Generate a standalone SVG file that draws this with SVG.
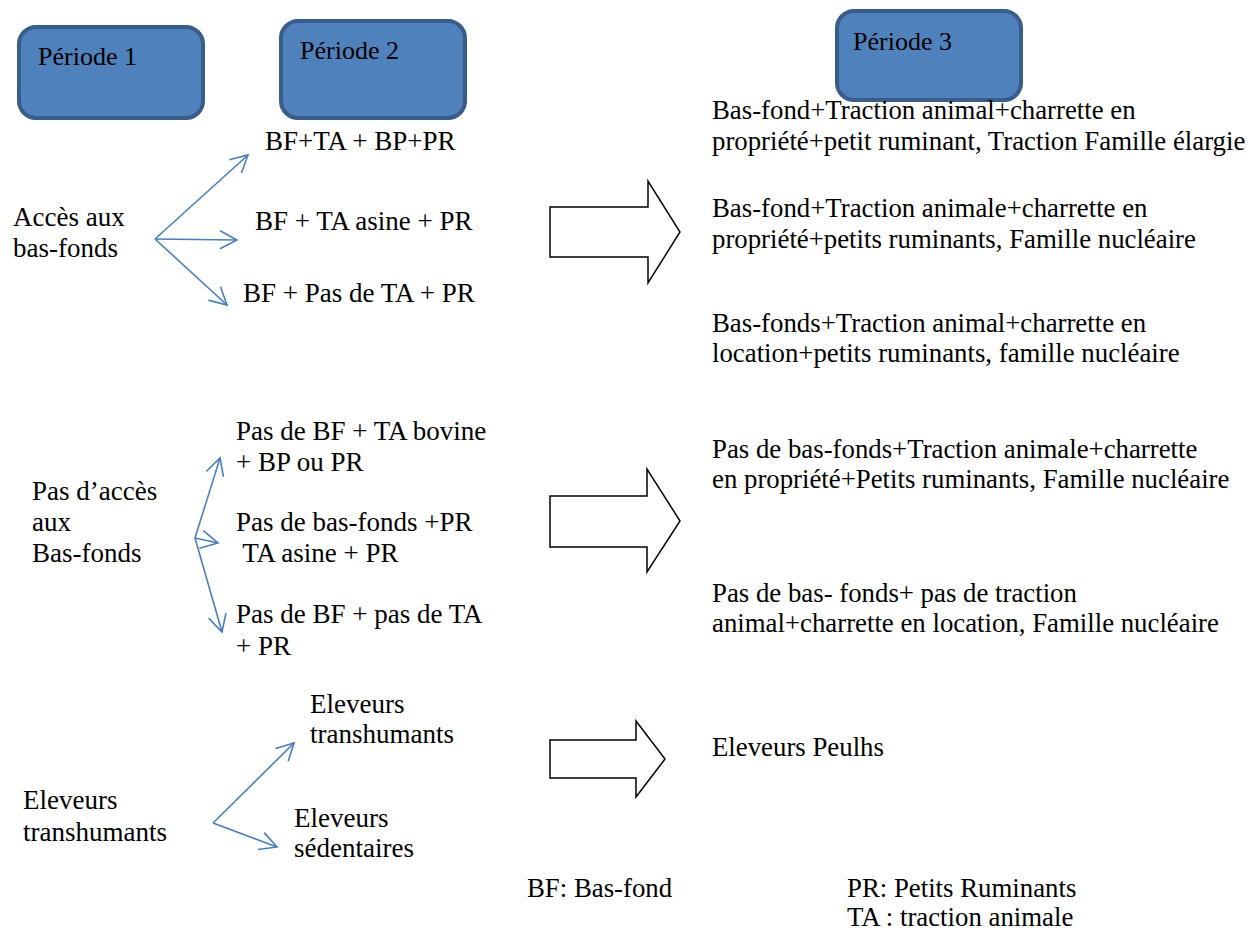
<svg xmlns="http://www.w3.org/2000/svg" width="1259" height="930" viewBox="0 0 1259 930">
<style>
text{font-family:"Liberation Serif","Times New Roman",serif;font-size:27px;fill:#000}
.lbl{font-size:26px}
.r{font-size:26.8px}
.box{fill:#4f81bd;stroke:#385d8a;stroke-width:4}
.ln{fill:none;stroke:#4a7ebb;stroke-width:1.6;marker-end:url(#ah)}
.big{fill:#fff;stroke:#000;stroke-width:1.5;stroke-linejoin:miter}
</style>
<defs>
<marker id="ah" markerUnits="userSpaceOnUse" viewBox="-20 -11 22 22" refX="0" refY="0" markerWidth="22" markerHeight="22" orient="auto">
<path d="M-17,-9 L0,0 L-17,9" fill="none" stroke="#4a7ebb" stroke-width="1.6"/>
</marker>
</defs>
<rect width="1259" height="930" fill="#fff"/>
<g id="periode1"><rect class="box" x="19" y="27" width="184" height="91" rx="17"/><text class="lbl" x="38" y="65">Période 1</text></g>
<g id="periode2"><rect class="box" x="281" y="21" width="184" height="97" rx="17"/><text class="lbl" x="300" y="59">Période 2</text></g>
<g id="periode3"><rect class="box" x="837" y="11" width="184" height="89" rx="17"/><text class="lbl" x="853" y="50">Période 3</text></g>

<g id="acces"><text x="13" y="226">Accès aux</text><text x="13" y="257">bas-fonds</text></g>
<g id="p2a"><text x="265" y="150">BF+TA + BP+PR</text></g>
<g id="p2b"><text x="255" y="230">BF + TA asine + PR</text></g>
<g id="p2c"><text x="243" y="302">BF + Pas de TA + PR</text></g>

<g id="pasacces"><text x="32" y="500">Pas d’accès</text><text x="32" y="531">aux</text><text x="32" y="562">Bas-fonds</text></g>
<g id="p2d"><text x="236" y="440">Pas de BF + TA bovine</text><text x="236" y="471">+ BP ou PR</text></g>
<g id="p2e"><text x="236" y="531">Pas de bas-fonds +PR</text><text x="236" y="562" xml:space="preserve"> TA asine + PR</text></g>
<g id="p2f"><text x="236" y="623">Pas de BF + pas de TA</text><text x="236" y="655">+ PR</text></g>

<g id="eleveurs1"><text x="23" y="809">Eleveurs</text><text x="23" y="841">transhumants</text></g>
<g id="eleveurs2"><text x="310" y="713">Eleveurs</text><text x="310" y="743">transhumants</text></g>
<g id="eleveurs3"><text x="294" y="827">Eleveurs</text><text x="294" y="857">sédentaires</text></g>

<g id="p3a" class="r"><text class="r" x="712" y="119">Bas-fond+Traction animal+charrette en</text><text class="r" x="712" y="150">propriété+petit ruminant, Traction Famille élargie</text></g>
<g id="p3b"><text class="r" x="712" y="217">Bas-fond+Traction animale+charrette en</text><text class="r" x="712" y="248">propriété+petits ruminants, Famille nucléaire</text></g>
<g id="p3c"><text class="r" x="712" y="332">Bas-fonds+Traction animal+charrette en</text><text class="r" x="712" y="362">location+petits ruminants, famille nucléaire</text></g>
<g id="p3d"><text class="r" x="712" y="458">Pas de bas-fonds+Traction animale+charrette</text><text class="r" x="712" y="488">en propriété+Petits ruminants, Famille nucléaire</text></g>
<g id="p3e"><text class="r" x="712" y="602">Pas de bas- fonds+ pas de traction</text><text class="r" x="712" y="632">animal+charrette en location, Famille nucléaire</text></g>
<g id="p3f"><text class="r" x="712" y="756">Eleveurs Peulhs</text></g>

<g id="legende"><text class="r" x="527" y="897">BF: Bas-fond</text><text class="r" x="847" y="897">PR: Petits Ruminants</text><text class="r" x="847" y="926">TA : traction animale</text></g>

<g id="connectors">
<path class="ln" d="M155,239 L248,155"/>
<path class="ln" d="M155,239 L237,240"/>
<path class="ln" d="M155,239 L227,305"/>
<path class="ln" d="M195,538 L220,458"/>
<path class="ln" d="M195,538 L218,543"/>
<path class="ln" d="M195,538 L222,632"/>
<path class="ln" d="M213,823 L294,743"/>
<path class="ln" d="M213,823 L277,847"/>
<path class="big" d="M550,207 L648,207 L648,181 L680,232 L648,283 L648,257 L550,257 Z"/>
<path class="big" d="M550,496 L647,496 L647,469 L680,521 L647,572 L647,547 L550,547 Z"/>
<path class="big" d="M550,740 L636,740 L636,721 L665,759 L636,797 L636,778 L550,778 Z"/>
</g>
</svg>
